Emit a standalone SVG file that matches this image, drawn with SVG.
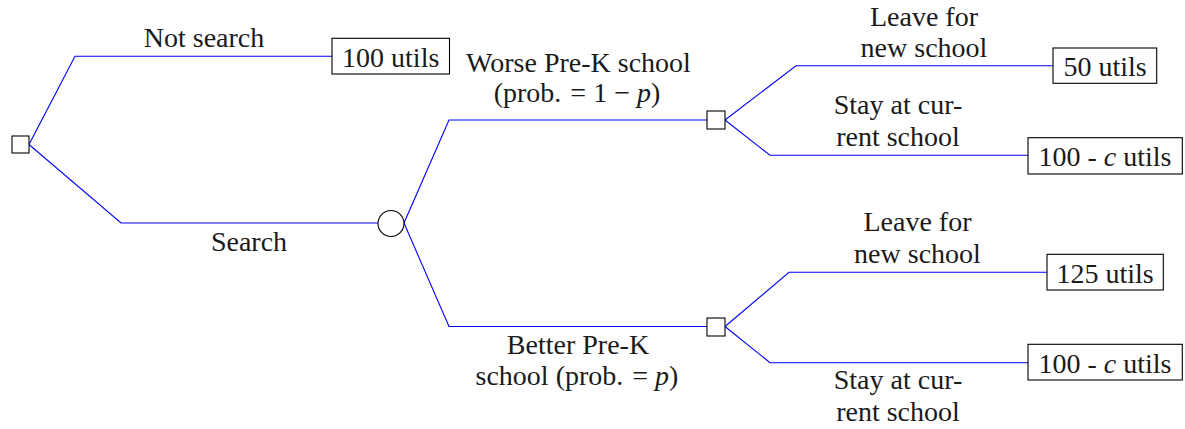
<svg xmlns="http://www.w3.org/2000/svg" width="1185" height="429" viewBox="0 0 1185 429">
<style>
.e{fill:none;stroke:#0000ff;stroke-width:1.1}
.n{fill:#fff;stroke:#000;stroke-width:1.1}
text{font-family:"Liberation Serif","Times New Roman",serif;font-size:28px;fill:#1a1a1a;text-anchor:middle}
.i{font-style:italic}
</style>
<rect width="1185" height="429" fill="#fff"/>
<g id="connectors">
<polyline class="e" points="29,144.5 75,56.3 332,56.3"/>
<polyline class="e" points="29,144.5 121,223 378,223"/>
<polyline class="e" points="404,223 449,120 707,120"/>
<polyline class="e" points="404,223 449,326.5 707,326.5"/>
<polyline class="e" points="725,120 796,65.7 1053,65.7"/>
<polyline class="e" points="725,120 770,155.3 1028,155.3"/>
<polyline class="e" points="725,326.5 789,272.3 1047,272.3"/>
<polyline class="e" points="725,326.5 770,362.7 1028,362.7"/>
</g>
<g id="labels">
<text x="204" y="47">Not search</text>
<text x="249" y="251">Search</text>
<text x="578.5" y="72">Worse Pre-K school</text>
<text x="577" y="102">(prob.<tspan dx="9">=</tspan><tspan dx="7">1</tspan><tspan dx="7">−</tspan><tspan class="i" dx="7">p</tspan>)</text>
<text x="578" y="354">Better Pre-K</text>
<text x="577" y="385">school (prob.<tspan dx="9">=</tspan><tspan class="i" dx="7">p</tspan>)</text>
<text x="924" y="26">Leave for</text>
<text x="924" y="57">new school</text>
<text x="898" y="114">Stay at cur-</text>
<text x="898" y="146">rent school</text>
<text x="917.5" y="231">Leave for</text>
<text x="917.5" y="262.5">new school</text>
<text x="898" y="389">Stay at cur-</text>
<text x="898" y="420.5">rent school</text>
</g>
<g id="root"><rect class="n" x="12" y="136" width="17" height="17"/></g>
<g id="chance"><circle class="n" cx="391" cy="223.5" r="13"/></g>
<g id="decision-worse"><rect class="n" x="707" y="111" width="18" height="18"/></g>
<g id="decision-better"><rect class="n" x="707" y="318" width="18" height="18"/></g>
<g id="payoff-notsearch"><rect class="n" x="332" y="38.3" width="117.5" height="35.7"/><text x="390.7" y="66.5">100 utils</text></g>
<g id="payoff-worse-leave"><rect class="n" x="1053" y="48" width="103.7" height="35.3"/><text x="1105" y="75.5">50 utils</text></g>
<g id="payoff-worse-stay"><rect class="n" x="1028" y="137.7" width="154.3" height="36.3"/><text x="1105" y="165.5">100 - <tspan class="i">c</tspan> utils</text></g>
<g id="payoff-better-leave"><rect class="n" x="1047" y="254.3" width="116.3" height="35.7"/><text x="1105" y="282.5">125 utils</text></g>
<g id="payoff-better-stay"><rect class="n" x="1028" y="344.3" width="154.3" height="35.7"/><text x="1105" y="372.5">100 - <tspan class="i">c</tspan> utils</text></g>
</svg>
